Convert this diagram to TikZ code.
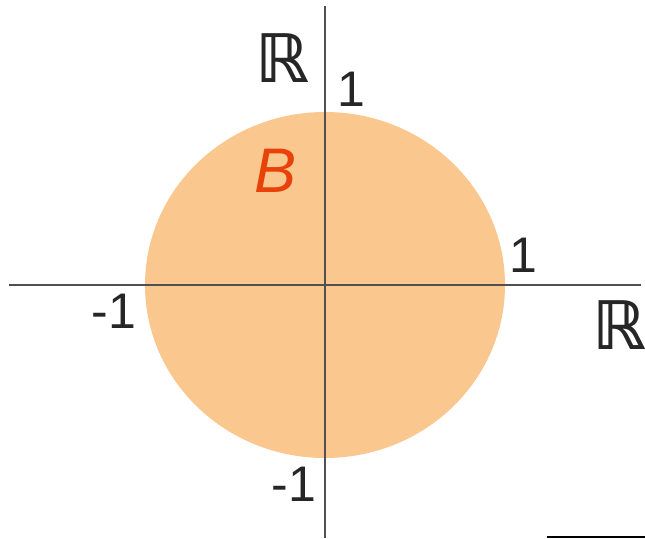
\documentclass[tikz,border=0pt]{standalone}
\usepackage{fontspec}
\setmainfont{Liberation Sans}
\newfontfamily\djv{DejaVu Sans}
\definecolor{diskfill}{RGB}{250,199,142}
\definecolor{borange}{RGB}{232,65,10}
\definecolor{axisgray}{RGB}{80,80,80}
\begin{document}
\begin{tikzpicture}[x=1pt,y=-1pt,
  axisline/.style={draw=axisgray,line width=1.2pt},
  numlabel/.style={inner sep=0pt,font=\fontsize{50}{50}\selectfont,text=black!85},
  reals/.style={inner sep=0pt,font=\djv\bfseries\fontsize{67}{67}\selectfont,text=black!85}]
\useasboundingbox (0,0) rectangle (645,538);
\fill[diskfill] (325,285) ellipse [x radius=180, y radius=173];
\coordinate (hl) at (9,285);
\coordinate (hr) at (641,285);
\coordinate (vt) at (325,6);
\coordinate (vb) at (325,538);
\draw[axisline] (hl) -- (hr);
\draw[axisline] (vt) -- (vb);
\node[reals] (Rtop) at (282,58) {ℝ};
\node[reals] (Rright) at (619,325) {ℝ};
\node[numlabel] (one top) at (351,89) {1};
\node[numlabel] (one right) at (523,255) {1};
\node[numlabel] (mone left) at (114,311) {-1};
\node[numlabel] (mone bottom) at (294,484) {-1};
\node[inner sep=0pt,font=\itshape\fontsize{63}{63}\selectfont,text=borange] (B) at (276,171) {B};
\coordinate (sl) at (547,537);
\coordinate (sr) at (645,537);
\draw[black,line width=1.5pt] (sl) -- (sr);
\end{tikzpicture}
\end{document}
